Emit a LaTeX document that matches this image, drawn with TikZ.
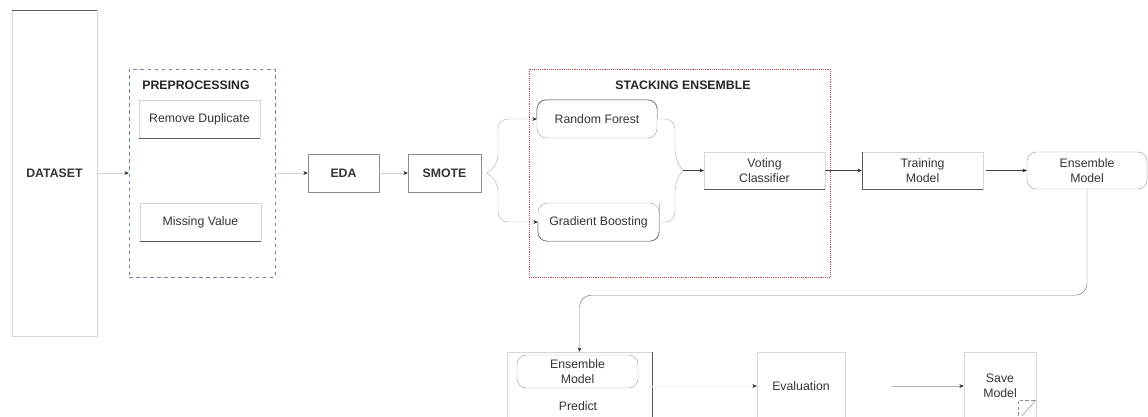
\documentclass[tikz,border=0pt]{standalone}
\usepackage{fontspec}
\setmainfont{Liberation Sans}
\usetikzlibrary{arrows.meta}
\definecolor{prepblue}{RGB}{110,130,175}
\definecolor{stackred}{RGB}{215,70,70}
\begin{document}
\begin{tikzpicture}[
            x=0.03cm, y=-0.03cm,
            box/.style={rectangle, draw=black!16, text=black!80, align=center, inner sep=0pt,
                font=\fontsize{10.5}{12.5}\selectfont},
            rbox/.style={box, rounded corners=0.28cm, draw=black!35},
            boldbox/.style={box, font=\fontsize{10.5}{12.5}\selectfont\bfseries},
            plain/.style={text=black!80, align=center, inner sep=0pt, font=\fontsize{10.5}{12.5}\selectfont},
            title/.style={text=black!85, font=\fontsize{10.5}{12.5}\selectfont\bfseries},
            edge/.style={draw=black!65},
            link/.style={draw=black!18, -{Stealth[length=1.3mm,width=1.1mm,black!85]}},
            dlink/.style={link, draw=black!75},
        ]
            \useasboundingbox (0,0) rectangle (1148,416);
            % first row
            \node[boldbox, minimum width=2.55cm, minimum height=9.78cm](dataset) at (54.5,173) {DATASET};
            \node[rectangle, draw=prepblue, dashed, minimum width=4.38cm, minimum height=6.24cm](prep) at (202,173) {};
            \node[title](preptitle) at (196,85) {PREPROCESSING};
            \node[box, minimum width=3.63cm, minimum height=1.14cm](rd) at (199.5,119) {Remove Duplicate};
            \node[box, minimum width=3.63cm, minimum height=1.14cm](mv) at (200.5,222) {Missing Value};
            \node[boldbox, draw=black!45, minimum width=2.13cm, minimum height=1.14cm](eda) at (343.5,173) {EDA};
            \node[boldbox, draw=black!45, minimum width=2.19cm, minimum height=1.14cm](smote) at (444.5,173) {SMOTE};
            \node[rectangle, draw=stackred, line width=0.6pt, densely dotted, minimum width=9.03cm, minimum height=6.24cm](stack) at (679.5,173) {};
            \node[title](stacktitle) at (683,85) {STACKING ENSEMBLE};
            \node[rbox, minimum width=3.6cm, minimum height=1.14cm](rf) at (597,119) {Random Forest};
            \node[rbox, minimum width=3.63cm, minimum height=1.14cm](gb) at (598.5,222) {Gradient Boosting};
            \node[box, minimum width=3.63cm, minimum height=1.11cm](vc) at (764.5,170.5) {Voting\\Classifier};
            \node[box, minimum width=3.63cm, minimum height=1.11cm](tm) at (922.5,170.5) {Training\\Model};
            \node[rbox, minimum width=3.6cm, minimum height=1.11cm](em) at (1087,170.5) {Ensemble\\Model};
            % second row
            \node[box, minimum width=4.35cm, minimum height=2.34cm](pred) at (579.5,391) {};
            \node[rbox, minimum width=3.63cm, minimum height=0.99cm](predem) at (577.5,371.5) {Ensemble\\Model};
            \node[plain](predtext) at (578,406) {Predict};
            \node[box, minimum width=2.64cm, minimum height=2.04cm](eval) at (801,386) {Evaluation};
            \node[box, minimum width=2.16cm, minimum height=2.04cm](save) at (1000,386) {Save\\Model};
            % darker edges
            \draw[edge] (dataset.north west) -- (dataset.north east);
            \draw[edge] (rd.south west) -- (rd.south east);
            \draw[edge] (mv.south west) -- (mv.south east);
            \draw[edge] (vc.south west) -- (vc.south east);
            \draw[edge] (tm.north west) -- (tm.south west) -- (tm.south east);
            \draw[edge] (pred.north east) -- (pred.south east);
            \draw[edge, rounded corners=0.28cm] (rf.west) |- (rf.north east) -- (rf.east);
            \draw[edge, rounded corners=0.28cm] (gb.west) |- (gb.south east) -- (gb.north east);
            % folded corner
            \draw[black!45, densely dashed] (1018,416) -- (1018,400) -- (1036,400);
            \draw[black!45] (1036,400) -- (1022,416);
            % connectors
            \coordinate (split) at (487,173);
            \coordinate (join) at (683,170.5);
            \draw[link] (dataset) -- (prep);
            \draw[link] (prep) -- (eda);
            \draw[link] (eda) -- (smote);
            \draw[link, draw=black!30, rounded corners=0.3cm] (split) -- ++(11,-8) |- (rf.west);
            \draw[link, draw=black!30, rounded corners=0.3cm] (split) -- ++(11,8) |- (gb.west);
            \draw[black!30, rounded corners=0.3cm] (rf.east) -| (675,160) -- (join);
            \draw[black!30, rounded corners=0.3cm] (gb.east) -| (675,181) -- (join);
            \draw[dlink] (join) -- (vc);
            \draw[dlink] (vc) -- (tm);
            \draw[dlink, shorten <=2] (tm) -- (em);
            \draw[dlink, draw=black!55, rounded corners=0.35cm] (em.south) -- ++(0,106) -| (pred.north);
            \draw[link, draw=black!4] (pred.east |- eval.west) -- (eval.west);
            \draw[link, draw=black!30, shorten <=1.41cm] (eval) -- (save);
        \end{tikzpicture}
\end{document}
